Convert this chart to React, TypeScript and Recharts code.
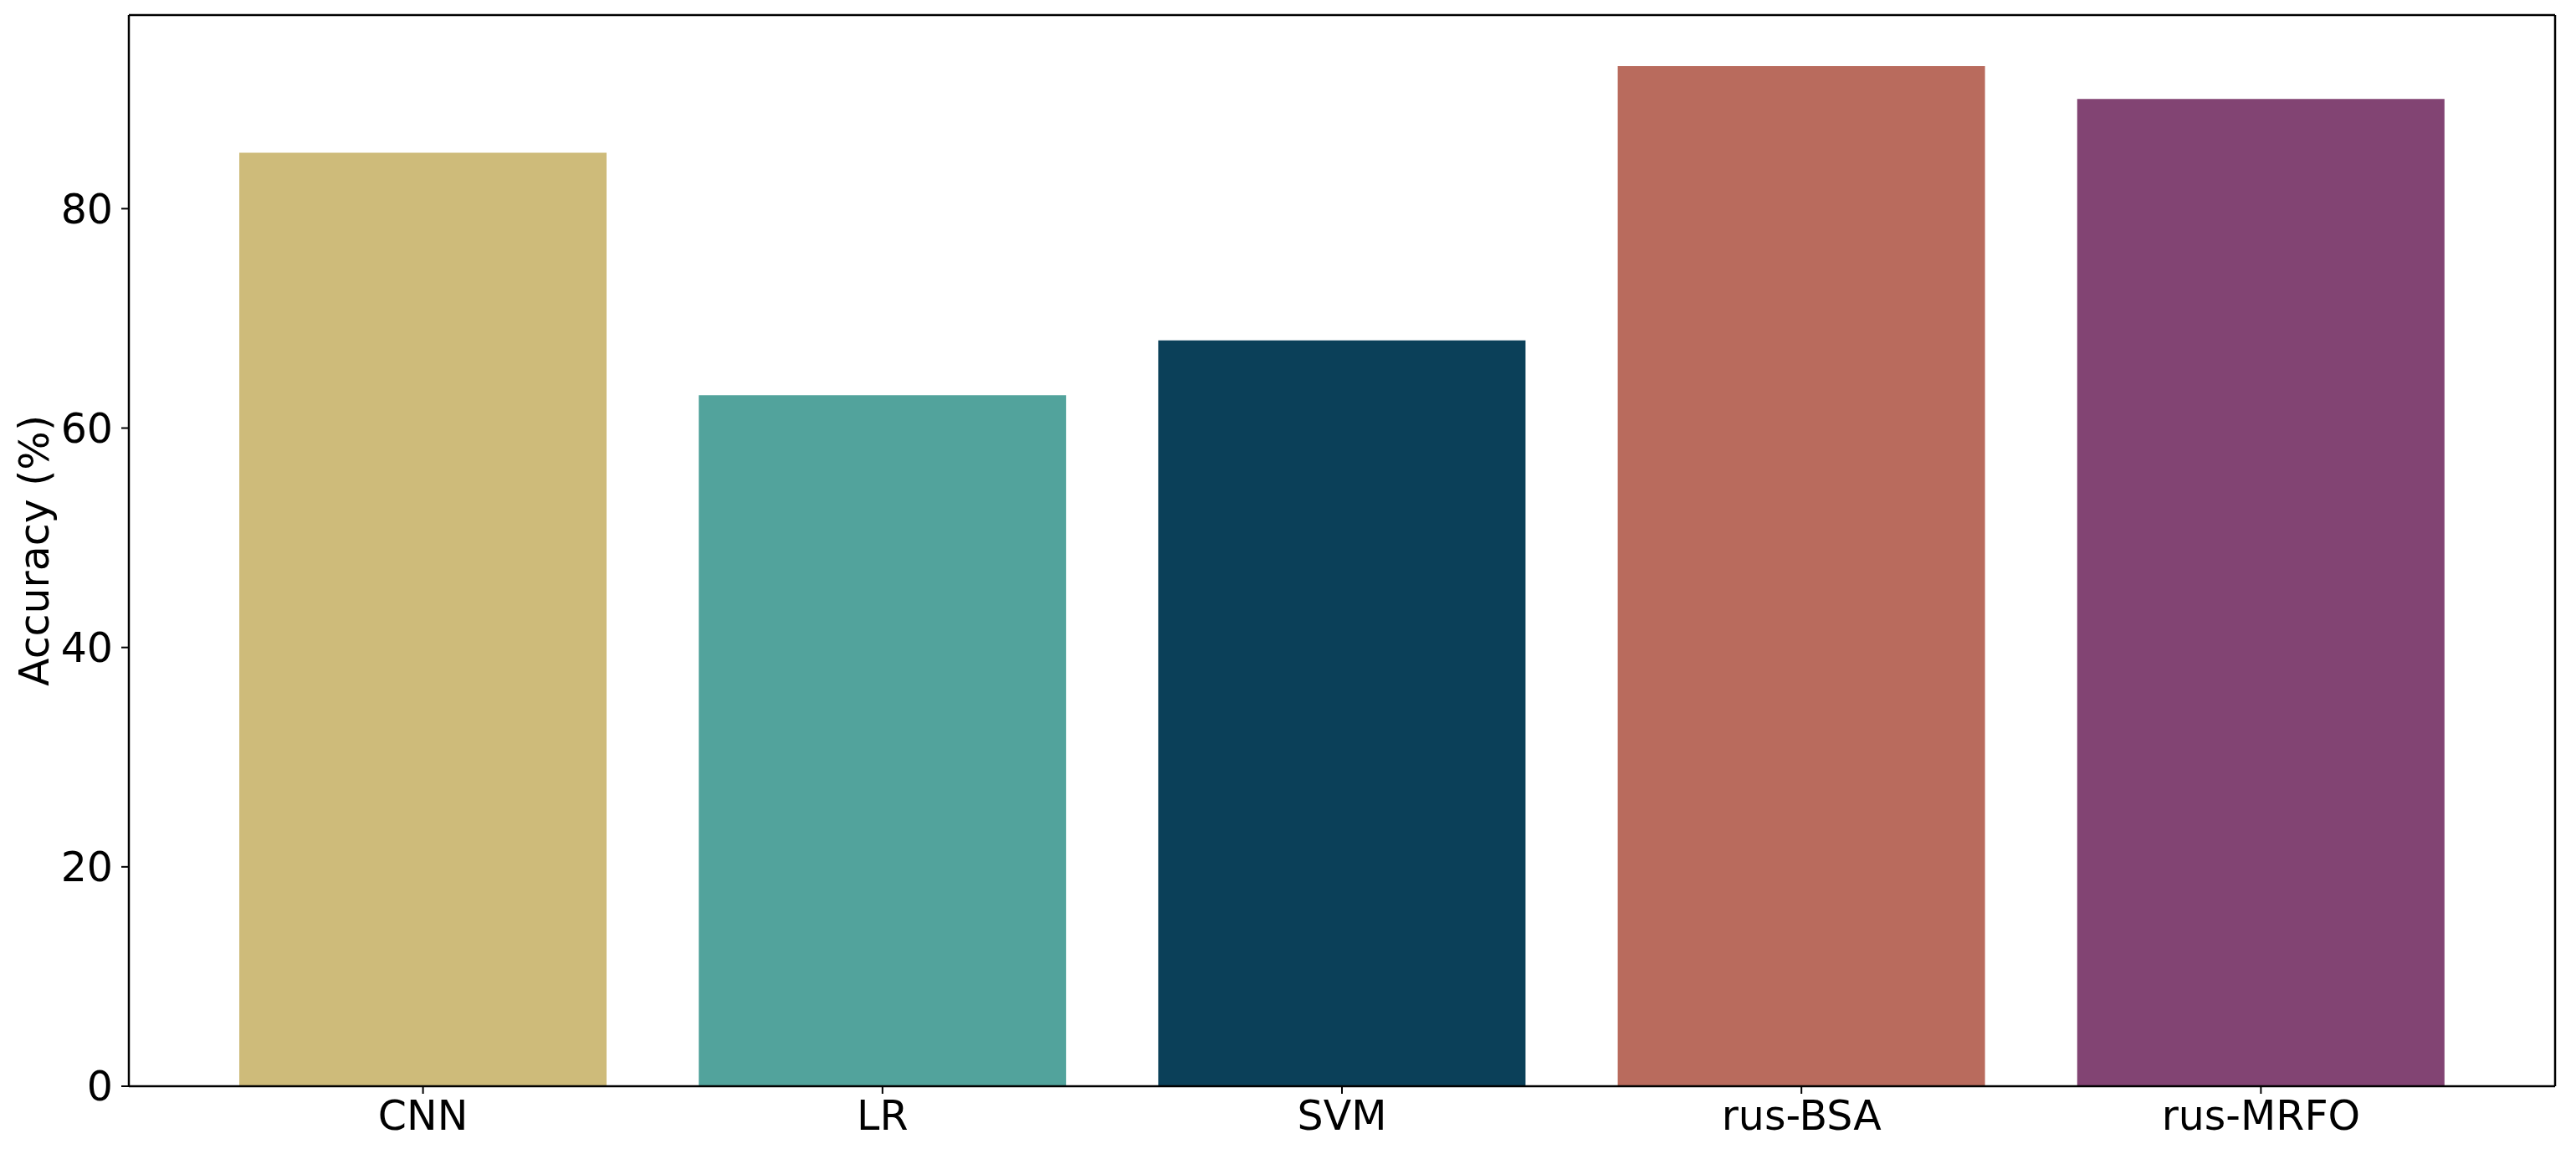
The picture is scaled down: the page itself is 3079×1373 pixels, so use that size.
import { BarChart, Bar, XAxis, YAxis, Cell } from "recharts";

const models = ["CNN", "LR", "SVM", "rus-BSA", "rus-MRFO"];
const accuracy = [85.1, 63, 68, 93, 90];
const barColors = ["#CEBB7A", "#52A39C", "#0B4059", "#B96B5D", "#824473"];
const yTicks = [0, 20, 40, 60, 80];

const data = models.map((model, i) => ({ model, accuracy: accuracy[i] }));

const FONT = "'DejaVu Sans', sans-serif";
const tickStyle = { fontSize: 49, fill: "#000", fontFamily: FONT };

const YLabel = ({ viewBox }: any) => {
  const cx = 41;
  const cy = viewBox.y + viewBox.height / 2;
  return (
    <text
      x={cx}
      y={cy}
      dy="0.355em"
      transform={`rotate(-90 ${cx} ${cy})`}
      textAnchor="middle"
      fontSize={49}
      fontFamily={FONT}
      fill="#000"
    >
      Accuracy (%)
    </text>
  );
};

const App = () => {
  return (
    <div style={{ position: "absolute", left: 0, top: 0, background: "#fff" }}>
      <BarChart
        width={3079}
        height={1373}
        data={data}
        margin={{ top: 17, right: 24, left: 0, bottom: 0 }}
        barCategoryGap={0}
      >
        <XAxis
          dataKey="model"
          height={75}
          padding={{ left: 77, right: 77 }}
          tick={tickStyle}
          tickSize={9}
          tickMargin={8}
          axisLine={{ stroke: "#000", strokeWidth: 2.5 }}
          tickLine={{ stroke: "#000", strokeWidth: 2 }}
          interval={0}
        />
        {/* top and right axes just close the frame */}
        <XAxis
          xAxisId="top"
          orientation="top"
          dataKey="model"
          height={1}
          padding={{ left: 77, right: 77 }}
          tick={false}
          tickLine={false}
          axisLine={{ stroke: "#000", strokeWidth: 2.5 }}
        />
        <YAxis
          width={154}
          domain={[0, 97.65]}
          ticks={yTicks}
          allowDataOverflow
          tick={tickStyle}
          tickSize={9}
          tickMargin={10}
          axisLine={{ stroke: "#000", strokeWidth: 2.5 }}
          tickLine={{ stroke: "#000", strokeWidth: 2 }}
          label={{ content: YLabel }}
        />
        <YAxis
          yAxisId="right"
          orientation="right"
          width={1}
          domain={[0, 97.65]}
          tick={false}
          tickLine={false}
          axisLine={{ stroke: "#000", strokeWidth: 2.5 }}
        />
        <Bar dataKey="accuracy" barSize={439} isAnimationActive={false}>
          {data.map((d, i) => (
            <Cell key={d.model} fill={barColors[i]} />
          ))}
        </Bar>
      </BarChart>
    </div>
  );
};

export default App;
